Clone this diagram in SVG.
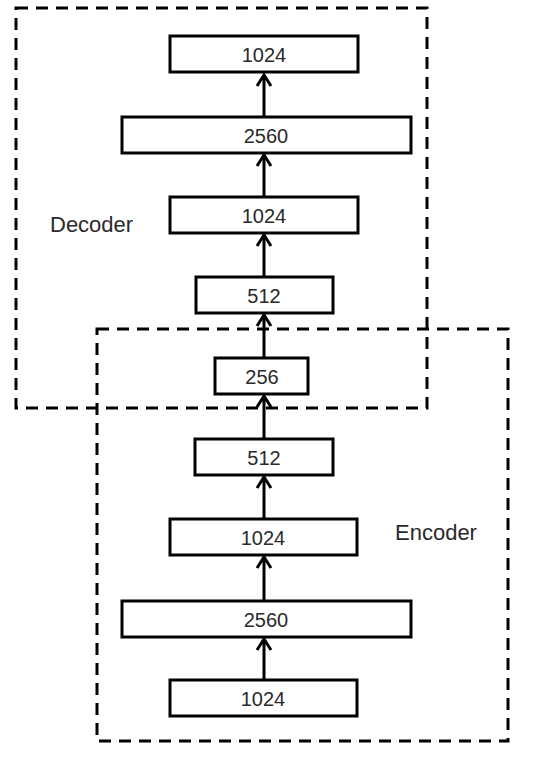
<svg xmlns="http://www.w3.org/2000/svg" width="538" height="768" viewBox="0 0 538 768">
<style>
.box{fill:#fff;stroke:#000;stroke-width:3}
.grp{fill:none;stroke:#000;stroke-width:3;stroke-dasharray:12 8}
.num{font-family:"Liberation Sans",Arial,sans-serif;font-size:20px;fill:#2a2a2a;text-anchor:middle}
.lbl{font-family:"Liberation Sans",Arial,sans-serif;font-size:22px;fill:#2a2a2a}
.arr{stroke:#000;stroke-width:3;fill:none}
</style>
<rect id="decoder" class="grp" x="16" y="8" width="411" height="400"/>
<rect id="encoder" class="grp" x="97" y="329" width="411" height="412"/>
<text class="lbl" x="50" y="232">Decoder</text>
<text class="lbl" x="395" y="540">Encoder</text>
<g id="connectors">
<path class="arr" d="M264 117V75 M257 86L264 75L271 86"/>
<path class="arr" d="M264 197V155 M257 166L264 155L271 166"/>
<path class="arr" d="M264 277V235 M257 246L264 235L271 246"/>
<path class="arr" d="M264 358V315 M257 326L264 315L271 326"/>
<path class="arr" d="M264 439V396 M257 407L264 396L271 407"/>
<path class="arr" d="M264 519V477 M257 488L264 477L271 488"/>
<path class="arr" d="M264 601V557 M257 568L264 557L271 568"/>
<path class="arr" d="M264 680V639 M257 650L264 639L271 650"/>
</g>
<g id="d1024top"><rect class="box" x="170" y="36" width="188" height="36"/><text class="num" x="264" y="62">1024</text></g>
<g id="d2560"><rect class="box" x="122" y="117" width="289" height="36"/><text class="num" x="266" y="143">2560</text></g>
<g id="d1024"><rect class="box" x="170" y="197" width="188" height="36"/><text class="num" x="264" y="223">1024</text></g>
<g id="d512"><rect class="box" x="196" y="277" width="137" height="36"/><text class="num" x="264" y="303">512</text></g>
<g id="n256"><rect class="box" x="215" y="358" width="93" height="36"/><text class="num" x="262" y="384">256</text></g>
<g id="e512"><rect class="box" x="195" y="439" width="138" height="36"/><text class="num" x="264" y="465">512</text></g>
<g id="e1024"><rect class="box" x="170" y="519" width="187" height="36"/><text class="num" x="263" y="545">1024</text></g>
<g id="e2560"><rect class="box" x="122" y="601" width="289" height="36"/><text class="num" x="266" y="627">2560</text></g>
<g id="e1024b"><rect class="box" x="170" y="680" width="187" height="36"/><text class="num" x="263" y="706">1024</text></g>
</svg>
